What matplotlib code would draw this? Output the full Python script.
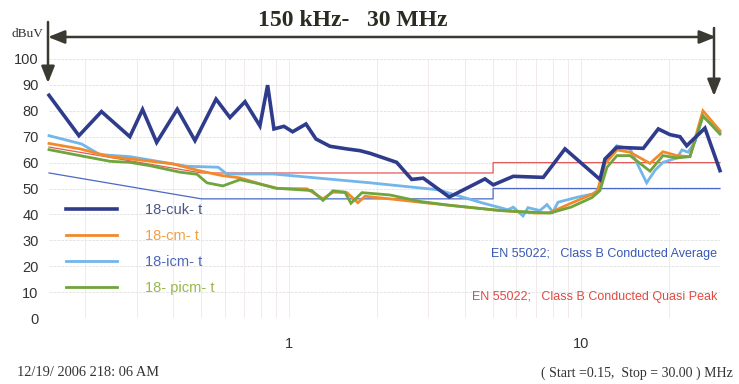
import matplotlib
matplotlib.use("Agg")
import matplotlib.pyplot as plt
from matplotlib.patches import FancyArrowPatch, ArrowStyle

W, H, DPI = 739, 384, 100

# Frequency (MHz) / level (dBuV) for each trace
cuk_f = [0.150, 0.190, 0.227, 0.284, 0.314, 0.351, 0.413, 0.475, 0.561, 0.626,
         0.705, 0.793, 0.843, 0.886, 0.959, 1.027, 1.141, 1.235, 1.379, 1.573,
         1.748, 1.891, 2.335, 2.630, 2.880, 3.538, 4.690, 5.008, 5.864, 7.432,
         8.821, 11.63, 12.10, 13.27, 16.37, 18.43, 20.21, 21.87, 23.06, 26.64, 30.0]
cuk_v = [86.0, 70.4, 79.7, 70.0, 80.5, 67.8, 80.6, 68.5, 84.5, 77.4,
         83.5, 74.2, 89.9, 73.0, 74.0, 71.9, 74.9, 69.1, 66.3, 65.3,
         64.6, 63.6, 60.1, 53.5, 54.0, 46.7, 53.7, 51.4, 54.7, 54.3,
         65.3, 53.5, 61.4, 65.9, 65.5, 73.0, 70.8, 70.0, 66.5, 73.3, 56.9]

cm_f = [0.150, 0.1915, 0.243, 0.308, 0.399, 0.494, 0.588, 0.677, 0.793, 0.915,
        1.150, 1.305, 1.412, 1.577, 1.720, 1.818, 2.215, 2.807, 3.557, 5.280,
        7.071, 7.834, 9.248, 11.36, 12.10, 13.30, 14.74, 17.26, 19.12, 21.36,
        23.66, 26.22, 30.0]
cm_v = [67.4, 65.3, 62.3, 61.0, 59.5, 56.8, 55.0, 54.1, 51.8, 50.0,
        49.9, 46.0, 48.6, 48.4, 44.5, 47.0, 46.0, 44.7, 43.5, 41.5,
        40.5, 40.7, 44.3, 48.6, 59.5, 64.9, 64.0, 59.7, 64.2, 62.7,
        62.3, 80.0, 72.3]

icm_f = [0.150, 0.194, 0.224, 0.284, 0.341, 0.445, 0.571, 0.610, 0.881, 1.891,
         3.236, 4.569, 5.623, 5.864, 6.332, 6.587, 7.241, 7.652, 8.022, 8.346,
         9.775, 11.00, 11.63, 12.10, 13.27, 14.74, 16.81, 17.95, 19.12, 21.36,
         22.22, 23.30, 24.62, 26.22, 30.0]
icm_v = [70.4, 67.2, 63.1, 62.3, 60.8, 58.6, 58.2, 55.6, 55.6, 52.2,
         49.5, 44.5, 41.8, 42.8, 39.4, 42.6, 41.5, 43.8, 40.9, 44.7,
         46.7, 47.9, 50.2, 60.8, 66.5, 65.3, 52.2, 57.0, 60.1, 61.8,
         64.9, 64.0, 68.0, 78.0, 71.7]

picm_f = [0.150, 0.1915, 0.243, 0.284, 0.333, 0.422, 0.4825, 0.522, 0.592, 0.677,
          0.775, 0.900, 1.196, 1.305, 1.412, 1.552, 1.627, 1.776, 2.215, 2.807,
          3.557, 5.280, 7.834, 9.248, 10.92, 11.63, 12.29, 13.30, 14.74, 17.26,
          19.12, 21.36, 23.66, 26.22, 30.0]
picm_v = [65.0, 62.7, 60.5, 60.1, 58.8, 56.3, 55.5, 52.2, 51.0, 53.4,
          52.0, 50.1, 49.2, 45.4, 49.1, 48.6, 44.3, 48.4, 47.5, 45.0,
          43.5, 41.5, 40.5, 42.8, 46.5, 49.2, 58.2, 62.7, 62.7, 56.7,
          62.7, 61.8, 62.3, 78.0, 71.0]

# EN 55022 class B conducted limits
lim_f = [0.15, 0.5, 5.0, 5.0, 30.0]
qp_v = [66, 56, 56, 60, 60]
avg_v = [56, 46, 46, 50, 50]

series_names = ["18-cuk- t", "18-cm- t", "18-icm- t", "18- picm- t"]
series_colors = ["#2f3c8c", "#f38a2a", "#72b6ea", "#6fa53d"]
label_colors = ["#4a5686", "#f2a040", "#4c66b8", "#98b84a"]

y_ticks = list(range(0, 101, 10))
x_major = [1, 10]
x_major_labels = ["1", "10"]
x_minor = [0.2, 0.3, 0.4, 0.5, 0.6, 0.7, 0.8, 0.9,
           2, 3, 4, 5, 6, 7, 8, 9, 20, 30]

plt.rcParams['font.family'] = ['Liberation Sans', 'DejaVu Sans']

fig = plt.figure(figsize=(W / DPI, H / DPI), dpi=DPI)
ax = fig.add_axes([49 / W, 1 - 318 / H, (720 - 49) / W, (318 - 59) / H])
ax.set_xscale('log')
ax.set_xlim(0.15, 30)
ax.set_ylim(0, 100)
for s in ax.spines.values():
    s.set_visible(False)

ax.set_yticks(y_ticks)
ax.set_xticks(x_major)
ax.set_xticklabels(x_major_labels)
ax.set_xticks(x_minor, minor=True)
ax.xaxis.set_minor_formatter(plt.NullFormatter())
ax.tick_params(which='both', length=0)
ax.tick_params(axis='y', labelsize=10.5, colors='#333333', pad=7.5)
ax.tick_params(axis='x', labelsize=10.5, colors='#333333', pad=14)
ax.grid(axis='y', color='#e6e6e6', lw=0.7, ls=(0, (3, 1)))
ax.grid(axis='x', which='both', color='#f1e9ea', lw=0.7)
ax.set_axisbelow(True)

# limit lines
ax.plot(lim_f, qp_v, color='#e25a5a', lw=0.9, zorder=2, clip_on=False)
ax.plot(lim_f, avg_v, color='#4c68c4', lw=0.9, zorder=2, clip_on=False)

# traces: icm under cm/picm, cuk on top
data = [(cuk_f, cuk_v), (cm_f, cm_v), (icm_f, icm_v), (picm_f, picm_v)]
widths = [2.6, 2.0, 2.0, 2.0]
order = [6, 4, 3, 5]
handles = []
for (f, v), name, c, lw, z in zip(data, series_names, series_colors, widths, order):
    ln, = ax.plot(f, v, color=c, lw=lw, label=name, zorder=z, clip_on=False,
                  solid_joinstyle='miter')
    handles.append(ln)

leg = fig.legend(handles=handles, labels=series_names, loc='upper left',
                 bbox_to_anchor=(66 / W, 1 - 203 / H), frameon=False,
                 fontsize=10.5, handlelength=3.5, handletextpad=1.9,
                 labelspacing=0.82, borderpad=0, borderaxespad=0,
                 labelcolor=label_colors)

fig.text(717 / W, 1 - 254 / H, "EN 55022;   Class B Conducted Average",
         color='#3a58b4', fontsize=9, ha='right', va='center')
fig.text(717 / W, 1 - 297 / H, "EN 55022;   Class B Conducted Quasi Peak",
         color='#e24a42', fontsize=9, ha='right', va='center')

serif = ['Liberation Serif', 'DejaVu Serif']
fig.text(353 / W, 1 - 21 / H, "150 kHz-   30 MHz", family=serif,
         fontweight='bold', fontsize=17, ha='center', va='center', color='#2b2b22')
fig.text(12 / W, 1 - 34 / H, "dBuV", family=serif, fontsize=9.5,
         ha='left', va='center', color='#333333')
fig.text(17 / W, 1 - 373 / H, "12/19/ 2006 218: 06 AM", family=serif,
         fontsize=10.4, ha='left', va='center', color='#333333')
fig.text(733 / W, 1 - 373 / H, "( Start =0.15,  Stop = 30.00 ) MHz",
         family=serif, fontsize=10, ha='right', va='center', color='#333333')

# span arrows
arrow_color = '#3a3a32'
style = ArrowStyle('-|>', head_length=0.5, head_width=0.2)
style2 = ArrowStyle('<|-|>', head_length=0.5, head_width=0.2)


def fig_arrow(p0, p1, st):
    a = FancyArrowPatch((p0[0] / W, 1 - p0[1] / H), (p1[0] / W, 1 - p1[1] / H),
                        arrowstyle=st, mutation_scale=20, color=arrow_color,
                        lw=1.8, transform=fig.transFigure, shrinkA=0, shrinkB=0)
    fig.add_artist(a)


fig_arrow((48, 37), (716, 37), style2)
fig_arrow((48, 22), (48, 83), style)
fig_arrow((714, 28), (714, 96), style)

fig.savefig("out.png", dpi=DPI)
